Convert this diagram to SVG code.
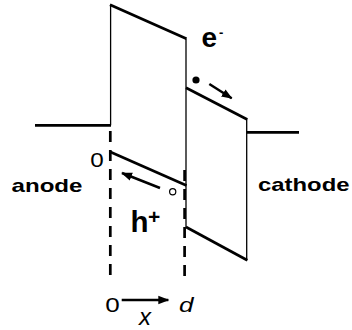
<svg xmlns="http://www.w3.org/2000/svg" width="352" height="330" viewBox="0 0 352 330">
<style>
.thick{stroke:#000;stroke-width:2.7;fill:none;stroke-linecap:butt}
.thin{stroke:#000;stroke-width:1.3;fill:none}
.dash{stroke:#000;stroke-width:2.7;fill:none;stroke-dasharray:11 8}
.arr{stroke:#000;stroke-width:2.5;fill:none;marker-end:url(#ah)}
.lbl{font-family:"Liberation Sans",Arial,sans-serif;fill:#000}
.b{font-weight:bold}
.i{font-style:italic}
</style>
<defs>
<marker id="ah" markerUnits="userSpaceOnUse" markerWidth="12" markerHeight="10" viewBox="0 0 12 10" refX="10" refY="5" orient="auto">
<path d="M0,0.8 L11,5 L0,9.2 Z" fill="#000"/>
</marker>
</defs>
<rect width="352" height="330" fill="#fff"/>
<g id="anode-level">
<line class="thick" x1="35" y1="125.3" x2="111" y2="125.3"/>
</g>
<g id="left-layer">
<line class="thin" x1="110.6" y1="4.5" x2="110.6" y2="125.3"/>
<line class="thick" x1="110" y1="4.7" x2="186.5" y2="38.8"/>
<line class="thin" x1="186" y1="38.8" x2="186" y2="227"/>
<line class="thick" x1="110.5" y1="152" x2="186.5" y2="185.5"/>
</g>
<g id="right-layer">
<line class="thick" x1="186" y1="87.7" x2="247.3" y2="119.5"/>
<line class="thin" x1="246.7" y1="119.3" x2="246.7" y2="260.5"/>
<line class="thick" x1="186" y1="227" x2="247.3" y2="260.3"/>
</g>
<g id="cathode-level">
<line class="thick" x1="246.7" y1="132.3" x2="299" y2="132.3"/>
</g>
<g id="connectors">
<line class="dash" x1="110.3" y1="131" x2="110.3" y2="283"/>
<line class="dash" x1="184.6" y1="170" x2="184.6" y2="283"/>
<line class="arr" x1="209.3" y1="84" x2="231.7" y2="98.3"/>
<line class="arr" x1="160" y1="188" x2="122" y2="173"/>
<line class="arr" x1="121.7" y1="300" x2="168.3" y2="300"/>
</g>
<g id="carriers">
<circle cx="196" cy="80" r="3.6" fill="#000"/>
<circle cx="172.7" cy="191.7" r="3.1" fill="#fff" stroke="#000" stroke-width="1.2"/>
</g>
<g id="labels">
<text class="lbl b" x="201.5" y="46.7" font-size="28">e<tspan font-size="13" dx="2" dy="-9.5">-</tspan></text>
<text class="lbl b" x="130.5" y="231.7" font-size="29" textLength="18" lengthAdjust="spacingAndGlyphs">h</text>
<text class="lbl b" x="148" y="224" font-size="21">+</text>
<text class="lbl b" x="11.5" y="191.7" font-size="19" textLength="71" lengthAdjust="spacingAndGlyphs">anode</text>
<text class="lbl b" x="258" y="191" font-size="19" textLength="91.5" lengthAdjust="spacingAndGlyphs">cathode</text>
<text class="lbl" x="90.3" y="167.3" font-size="20.5" textLength="13.5" lengthAdjust="spacingAndGlyphs">0</text>
<text class="lbl" x="105.3" y="311.7" font-size="21" textLength="14.5" lengthAdjust="spacingAndGlyphs">0</text>
<text class="lbl i" x="179" y="311.7" font-size="21" textLength="14.5" lengthAdjust="spacingAndGlyphs">d</text>
<text class="lbl i" x="139" y="325" font-size="24">x</text>
</g>
</svg>
